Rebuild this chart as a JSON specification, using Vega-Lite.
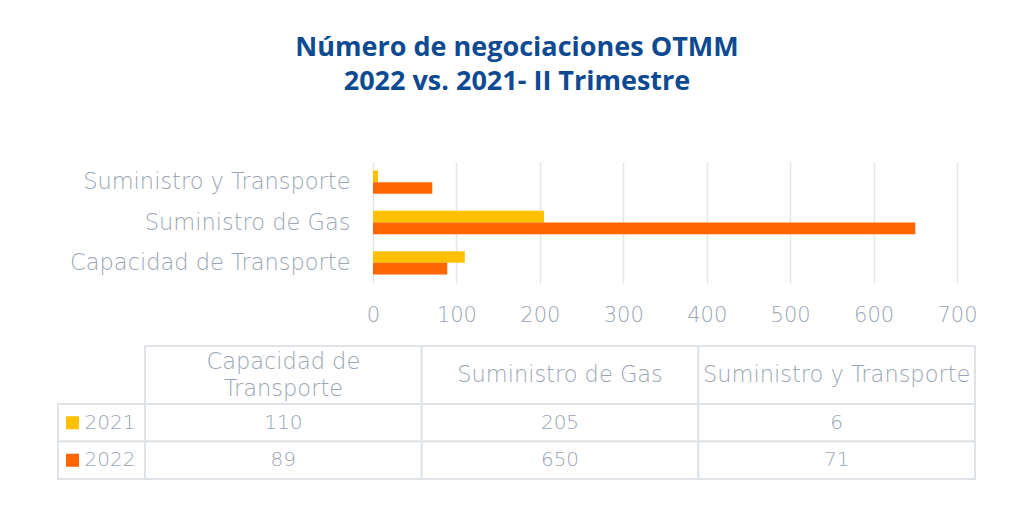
{
  "$schema": "https://vega.github.io/schema/vega-lite/v6.json",
  "background": "white",
  "padding": {"left": 57, "top": 34, "right": 0, "bottom": 0},
  "config": {
    "view": {"stroke": null},
    "font": "DejaVu Sans"
  },
  "title": {
    "text": ["Número de negociaciones OTMM", "2022 vs. 2021- II Trimestre"],
    "font": "Open Sans",
    "fontSize": 27,
    "fontWeight": "bold",
    "color": "#0D4A91",
    "lineHeight": 34,
    "anchor": "middle",
    "offset": 66
  },
  "datasets": {
    "negociaciones": [
      {"categoria": "Capacidad de Transporte", "anio": "2021", "valor": 110},
      {"categoria": "Suministro de Gas", "anio": "2021", "valor": 205},
      {"categoria": "Suministro y Transporte", "anio": "2021", "valor": 6},
      {"categoria": "Capacidad de Transporte", "anio": "2022", "valor": 89},
      {"categoria": "Suministro de Gas", "anio": "2022", "valor": 650},
      {"categoria": "Suministro y Transporte", "anio": "2022", "valor": 71}
    ],
    "columnas": [
      {"categoria": "Capacidad de Transporte", "encabezado": "Capacidad de\nTransporte"},
      {"categoria": "Suministro de Gas", "encabezado": "Suministro de Gas"},
      {"categoria": "Suministro y Transporte", "encabezado": "Suministro y Transporte"}
    ],
    "anios": [{"anio": "2021"}, {"anio": "2022"}],
    "vacio": [{"x": 1}]
  },
  "vconcat": [
    {
      "hconcat": [
        {
          "width": 315,
          "height": 121,
          "data": {"name": "vacio"},
          "mark": {"type": "rect", "opacity": 0},
          "encoding": {}
        },
        {
          "width": 584,
          "height": 121,
          "data": {"name": "negociaciones"},
          "mark": {"type": "bar"},
          "encoding": {
            "y": {
              "field": "categoria",
              "type": "nominal",
              "sort": ["Suministro y Transporte", "Suministro de Gas", "Capacidad de Transporte"],
              "scale": {"paddingInner": 0.42, "paddingOuter": 0.21},
              "axis": {
                "title": null,
                "ticks": false,
                "domain": false,
                "labelFont": "DejaVu Sans",
                "labelFontWeight": 200,
                "labelFontSize": 22.5,
                "labelColor": "#9AA6B4",
                "labelPadding": 23,
                "labelLimit": 500
              }
            },
            "yOffset": {"field": "anio", "type": "nominal", "sort": ["2021", "2022"]},
            "x": {
              "field": "valor",
              "type": "quantitative",
              "scale": {"domain": [0, 700]},
              "axis": {
                "title": null,
                "values": [0, 100, 200, 300, 400, 500, 600, 700],
                "ticks": false,
                "domain": false,
                "grid": true,
                "gridColor": "#E3E6EB",
                "gridWidth": 1.5,
                "labelFlush": false,
                "labelFont": "DejaVu Sans",
                "labelFontWeight": 200,
                "labelFontSize": 21,
                "labelColor": "#9AA6B4",
                "labelPadding": 21
              }
            },
            "color": {
              "field": "anio",
              "type": "nominal",
              "scale": {"domain": ["2021", "2022"], "range": ["#FFC000", "#FF6600"]},
              "legend": null
            }
          }
        }
      ],
      "spacing": 0,
      "bounds": "flush"
    },
    {
      "concat": [
        {
          "width": 87,
          "height": 58,
          "data": {"name": "vacio"},
          "mark": {"type": "rect", "opacity": 0},
          "encoding": {}
        },
        {
          "width": 830,
          "height": 58,
          "data": {"name": "columnas"},
          "encoding": {
            "x": {
              "field": "categoria",
              "type": "nominal",
              "sort": ["Capacidad de Transporte", "Suministro de Gas", "Suministro y Transporte"],
              "scale": {"paddingInner": 0, "paddingOuter": 0},
              "axis": null
            }
          },
          "layer": [
            {"mark": {"type": "rect", "fill": "white", "stroke": "#DFE3E8", "strokeWidth": 2}},
            {
              "transform": [{"filter": "datum.categoria != 'Capacidad de Transporte'"}],
              "mark": {"type": "text", "fontSize": 22.5, "font": "DejaVu Sans", "fontWeight": 200, "color": "#9AA6B4"},
              "encoding": {"text": {"field": "encabezado"}}
            },
            {
              "transform": [{"filter": "datum.categoria == 'Capacidad de Transporte'"}],
              "mark": {"type": "text", "lineBreak": "\n", "fontSize": 22.5, "lineHeight": 27, "dy": -13, "font": "DejaVu Sans", "fontWeight": 200, "color": "#9AA6B4"},
              "encoding": {"text": {"field": "encabezado"}}
            }
          ]
        },
        {
          "width": 87,
          "height": 75,
          "data": {"name": "anios"},
          "encoding": {
            "y": {"field": "anio", "type": "nominal", "sort": ["2021", "2022"], "scale": {"paddingInner": 0, "paddingOuter": 0}, "axis": null}
          },
          "layer": [
            {"mark": {"type": "rect", "fill": "white", "stroke": "#DFE3E8", "strokeWidth": 2}},
            {
              "mark": {"type": "point", "shape": "square", "filled": true, "opacity": 1, "size": 169, "xOffset": -29},
              "encoding": {
                "color": {"field": "anio", "type": "nominal", "scale": {"domain": ["2021", "2022"], "range": ["#FFC000", "#FF6600"]}, "legend": null}
              }
            },
            {
              "mark": {"type": "text", "align": "left", "dx": -17, "fontSize": 20, "font": "DejaVu Sans", "fontWeight": 200, "color": "#9AA6B4"},
              "encoding": {"text": {"field": "anio"}}
            }
          ]
        },
        {
          "width": 830,
          "height": 75,
          "data": {"name": "negociaciones"},
          "encoding": {
            "x": {
              "field": "categoria",
              "type": "nominal",
              "sort": ["Capacidad de Transporte", "Suministro de Gas", "Suministro y Transporte"],
              "scale": {"paddingInner": 0, "paddingOuter": 0},
              "axis": null
            },
            "y": {"field": "anio", "type": "nominal", "sort": ["2021", "2022"], "scale": {"paddingInner": 0, "paddingOuter": 0}, "axis": null}
          },
          "layer": [
            {"mark": {"type": "rect", "fill": "white", "stroke": "#DFE3E8", "strokeWidth": 2}},
            {
              "mark": {"type": "text", "fontSize": 20, "font": "DejaVu Sans", "fontWeight": 200, "color": "#9AA6B4"},
              "encoding": {"text": {"field": "valor", "type": "quantitative"}}
            }
          ]
        }
      ],
      "columns": 2,
      "spacing": 0,
      "bounds": "flush"
    }
  ],
  "spacing": 20
}
